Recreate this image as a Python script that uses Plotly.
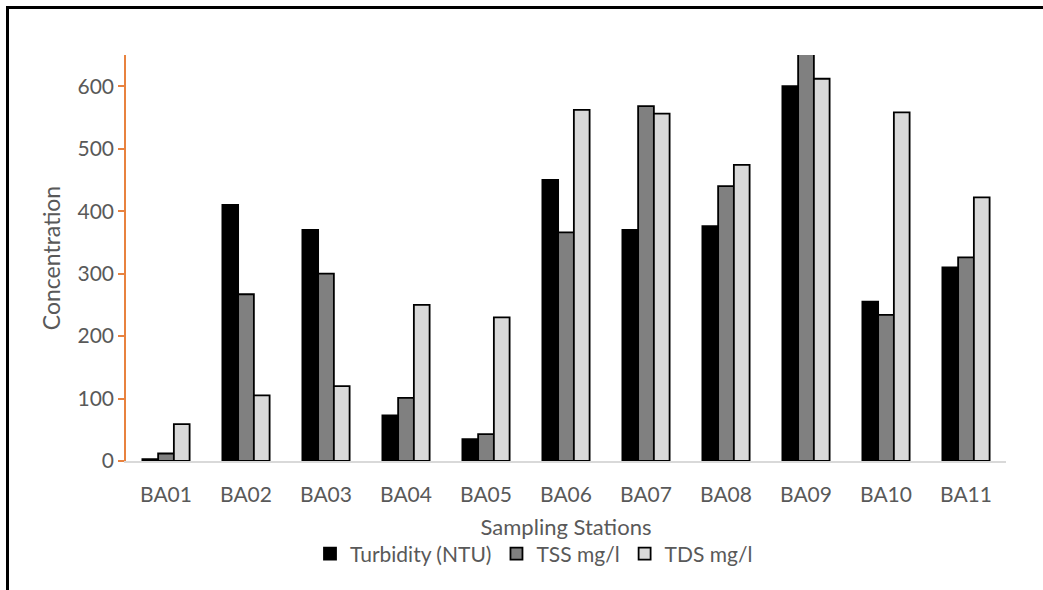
import plotly.graph_objects as go

stations = ["BA01", "BA02", "BA03", "BA04", "BA05", "BA06", "BA07", "BA08", "BA09", "BA10", "BA11"]
turbidity = [3, 410, 370, 73, 35, 450, 370, 376, 600, 255, 310]
tss = [12, 267, 300, 101, 43, 366, 568, 440, 680, 234, 326]
tds = [59, 105, 120, 250, 230, 562, 556, 474, 612, 558, 422]
y_ticks = [0, 100, 200, 300, 400, 500, 600]

FONT = "Lato"
GREY = "#595959"
ORANGE = "#E8823F"

W, H = 1043, 590
L, R, T, B = 126, 37, 55, 129
pw, ph = W - L - R, H - T - B

def px_x(p):
    return (p - L) / pw

def px_y(p):
    return (H - B - p) / ph

fig = go.Figure()
for name, vals, col in [("Turbidity (NTU)", turbidity, "#000000"),
                        ("TSS mg/l", tss, "#808080"),
                        ("TDS mg/l", tds, "#D9D9D9")]:
    fig.add_trace(go.Bar(x=stations, y=vals, name=name,
                         marker=dict(color=col, line=dict(color="#000000", width=1.8))))

fig.update_layout(
    width=W, height=H,
    margin=dict(l=L, r=R, t=T, b=B),
    paper_bgcolor="white", plot_bgcolor="white",
    barmode="group", bargap=0.41, bargroupgap=0,
    font=dict(family=FONT, size=21, color=GREY),
    showlegend=True,
    legend=dict(orientation="h", x=px_x(534), xanchor="center", y=px_y(554), yanchor="middle",
                font=dict(family=FONT, size=21, color=GREY), itemwidth=30,
                bgcolor="rgba(0,0,0,0)"),
    xaxis=dict(showline=True, linecolor="#D9D9D9", linewidth=1.5, ticks="", showgrid=False,
               ticklabelstandoff=14, tickfont=dict(family=FONT, size=21, color=GREY),
               title=dict(text="Sampling Stations", standoff=15,
                          font=dict(family=FONT, size=22, color=GREY))),
    yaxis=dict(range=[0, 650], tickvals=y_ticks, showline=True, linecolor=ORANGE, linewidth=1.5,
               ticks="outside", ticklen=6, tickcolor=ORANGE, tickwidth=1.5, showgrid=False, zeroline=False,
               tickfont=dict(family=FONT, size=21, color=GREY),
               title=dict(text="Concentration", standoff=10,
                          font=dict(family=FONT, size=23, color=GREY))),
    shapes=[
        dict(type="line", xref="paper", yref="paper", x0=px_x(7.5), x1=px_x(7.5), y0=px_y(595), y1=px_y(6.5),
             line=dict(color="black", width=3)),
        dict(type="line", xref="paper", yref="paper", x0=px_x(6), x1=px_x(1050), y0=px_y(7.5), y1=px_y(7.5),
             line=dict(color="black", width=3)),
    ],
)

fig.write_html("out.html")
